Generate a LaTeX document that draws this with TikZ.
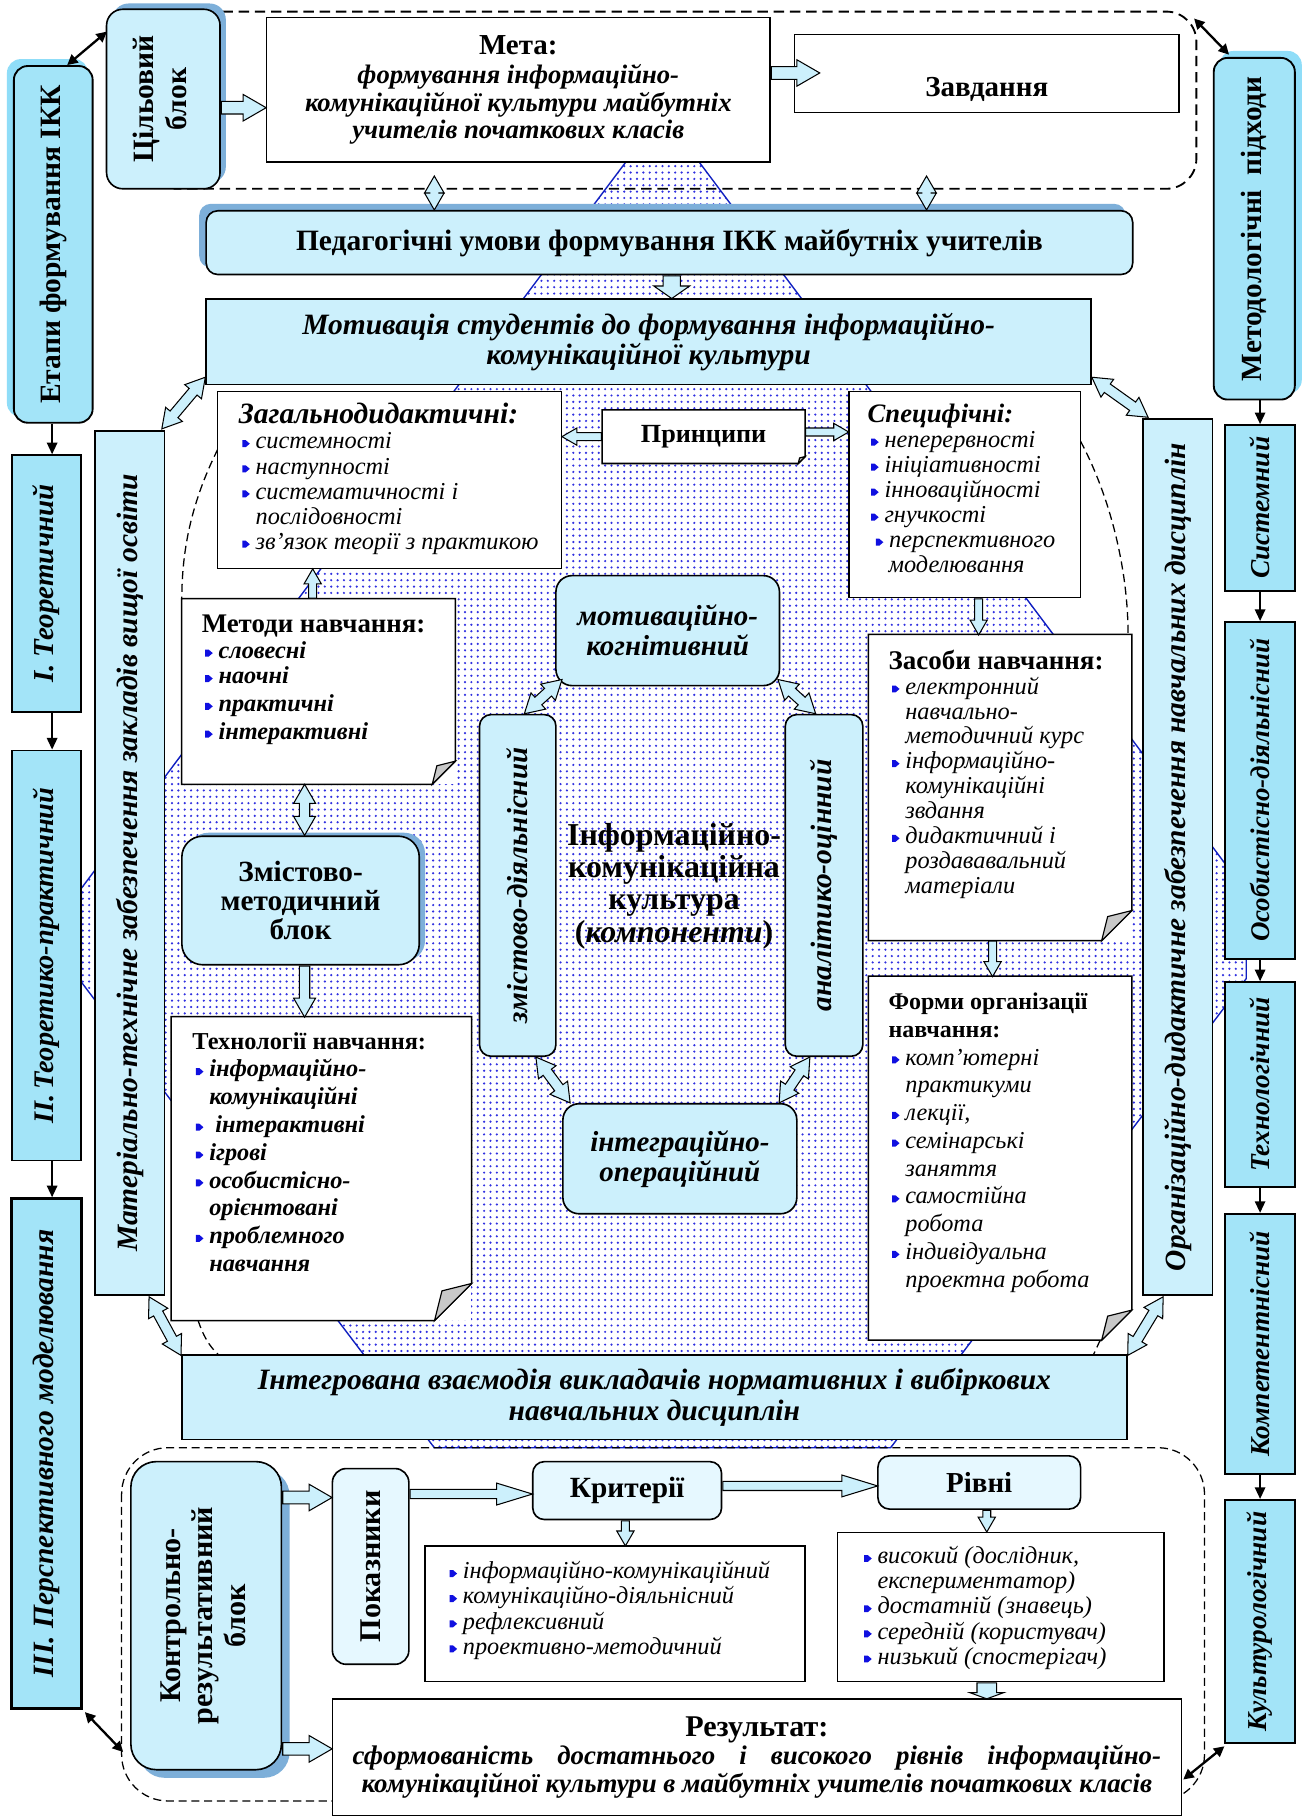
\documentclass[tikz,border=0pt]{standalone}
\usepackage{fontspec}
\setmainfont{Liberation Serif}
\usepackage{graphicx}
\usetikzlibrary{calc,arrows.meta,shapes.arrows,patterns.meta}

\definecolor{blokfill}{HTML}{CCF0FC}
\definecolor{colfill}{HTML}{A3E4F8}
\definecolor{glowfill}{HTML}{8FDDF8}
\definecolor{palefill}{HTML}{E6F8FF}
\definecolor{shadowblue}{HTML}{7DAFD9}
\definecolor{dotblue}{HTML}{3030E0}
\definecolor{octline}{HTML}{1020C0}
\definecolor{bulblue}{HTML}{1010E0}
\definecolor{foldgray}{HTML}{C8C8C8}

\newcommand\fs[2]{\fontsize{#1}{#2}\selectfont}
\newcommand\blt{\hspace*{3pt}\tikz[x=1pt,y=1pt,baseline=-4.5pt]\fill[bulblue] (0,-3) -- (3,-3) -- (6.5,0) -- (3,3) -- (0,3) -- cycle;\hspace{5pt}}
\newcommand\ind{\hspace*{14.5pt}}

% hollow block arrows between two points
\newcommand\harrow[3][]{\path let \p1=#2, \p2=#3,
  \n1={atan2(\y2-\y1,\x2-\x1)}, \n2={veclen(\x2-\x1,\y2-\y1)} in
  node[harr, #1, minimum height=\n2, rotate=\n1, anchor=tail] at #2 {};}
\newcommand\hdarrow[3][]{\path let \p1=#2, \p2=#3,
  \n1={atan2(\y2-\y1,\x2-\x1)}, \n2={veclen(\x2-\x1,\y2-\y1)} in
  node[hdarr, #1, minimum height=\n2, rotate=\n1] at ($#2!0.5!#3$) {};}
% folded corner of a sheet
\newcommand\dogear[2]{%
  \draw[line width=1.3pt] (#1.north west) -- (#1.north east) -- ($(#1.south east)+(0,-#2)$)
    -- ($(#1.south east)+(-#2,0)$) -- (#1.south west) -- cycle;
  \draw[line width=1pt, fill=foldgray] ($(#1.south east)+(0,-#2)$) -- ($(#1.south east)+(-#2,0)$)
    -- ($(#1.south east)+(-0.8*#2,-0.8*#2)$) -- cycle;}

\tikzset{
  whitebox/.style={draw, line width=1.3pt, fill=white, inner sep=0pt, align=center},
  sheet/.style={fill=white, inner sep=0pt},
  bluebox/.style={draw, line width=1.4pt, fill=blokfill, inner sep=0pt, align=center},
  blok/.style={bluebox, rounded corners=12pt},
  colbox/.style={draw, line width=1.6pt, fill=colfill, inner sep=0pt},
  palebox/.style={draw, line width=1.4pt, fill=palefill, rounded corners=10pt, inner sep=0pt, align=center},
  listtxt/.style={anchor=north west, inner sep=0pt, align=left, font=\itshape\fs{21}{21.7}},
  harr/.style={single arrow, draw, line width=0.9pt, fill=blokfill, inner xsep=0pt, inner ysep=5pt,
    single arrow head extend=6pt, single arrow tip angle=60},
  harrs/.style={inner ysep=3pt, single arrow head extend=4pt},
  hdarr/.style={double arrow, draw, line width=0.9pt, fill=blokfill, inner xsep=0pt, inner ysep=4pt,
    double arrow head extend=5pt, double arrow tip angle=60},
  colarr/.style={line width=1.4pt, -{Triangle[length=10pt,width=9pt]}},
  dblarr/.style={line width=2pt, {Triangle[length=9pt,width=9pt]}-{Triangle[length=9pt,width=9pt]}},
  frame/.style={dashed, line width=1.1pt, dash pattern=on 7pt off 4pt},
  octa/.style={draw=octline, line width=1.2pt, pattern={Dots[distance=5.5pt,radius=1.05pt]}, pattern color=dotblue}
}

\begin{document}
\begin{tikzpicture}[x=1pt, y=-1pt]
\useasboundingbox (0,0) rectangle (1129,1568);
\fill[white] (0,0) rectangle (1129,1568);

% background field
\path[octa] (568,103) -- (576,103) -- (1076,770) -- (1076,845) -- (769,1250)
  -- (375,1250) -- (68,845) -- (68,770) -- cycle;

% dashed frames
\draw[frame, line width=1.6pt, dash pattern=on 9pt off 5pt, rounded corners=26pt]
  (150,10) -- (1033,10) -- (1033,163) -- (150,163);
\draw[frame, rounded corners=40pt] (105,1250) rectangle (1040,1555);
\draw[frame] (188,388) .. controls (164,436) and (157,478) .. (157,517);
\draw[frame] (933,381) .. controls (958,428) and (974,490) .. (974,548);
\draw[frame] (171,1140) .. controls (175,1152) and (180,1162) .. (189,1170);
\draw[frame] (950,1157) -- (944,1170);

% shadows
\fill[glowfill, rounded corners=12pt] (6,51) rectangle (76,360);
\fill[glowfill, rounded corners=12pt] (1053,44) rectangle (1124,340);
\fill[shadowblue, rounded corners=14pt] (97,3) rectangle (195,158);
\fill[shadowblue, rounded corners=10pt] (172,176) rectangle (972,231);
\fill[shadowblue, rounded corners=18pt] (162,719) rectangle (367,830);
\fill[shadowblue, rounded corners=22pt] (120,1269) rectangle (250,1535);

% stages
\node[colbox, rounded corners=12pt, minimum width=68pt, minimum height=308pt] (etapy) at (46,211)
  {\rotatebox{90}{\bfseries\fs{25.5}{28}Етапи формування ІКК}};
\node[colbox, minimum width=60pt, minimum height=222pt] (teor) at (40,504)
  {\rotatebox{90}{\bfseries\itshape\fs{25}{26}I. Теоретичний}};
\node[colbox, minimum width=60pt, minimum height=354pt] (tepr) at (40,825)
  {\rotatebox{90}{\bfseries\itshape\fs{24.5}{26}II.\,Теоретико-практичний}};
\node[colbox, line width=2.6pt, minimum width=60pt, minimum height=440pt] (persp) at (40,1255)
  {\rotatebox{90}{\bfseries\itshape\fs{25.5}{26}III. Перспективного моделювання}};

\draw[colarr] (etapy.south -| 45,0) -- (teor.north -| 45,0);
\draw[colarr] (teor.south -| 45,0) -- (tepr.north -| 45,0);
\draw[colarr] (tepr.south -| 45,0) -- (persp.north -| 45,0);

% approaches
\node[colbox, rounded corners=12pt, minimum width=70pt, minimum height=295pt] (metod) at (1083,197.5)
  {\rotatebox{90}{\bfseries\fs{25.3}{28}Методологічні\ \ підходи}};
\node[colbox, minimum width=60pt, minimum height=143pt] (syst) at (1088,438.5)
  {\rotatebox{90}{\bfseries\itshape\fs{23.6}{26}Системний}};
\node[colbox, minimum width=60pt, minimum height=291pt] (osob) at (1088,682.5)
  {\rotatebox{90}{\bfseries\itshape\fs{23.3}{26}Особистісно-діяльнісний}};
\node[colbox, minimum width=60pt, minimum height=177pt] (tekhn) at (1088,936.5)
  {\rotatebox{90}{\bfseries\itshape\fs{23.6}{26}Технологічний}};
\node[colbox, minimum width=60pt, minimum height=225pt] (komp) at (1088,1160.5)
  {\rotatebox{90}{\bfseries\itshape\fs{23.6}{26}Компетентнісний}};
\node[colbox, minimum width=60pt, minimum height=210pt] (kult) at (1088,1400)
  {\rotatebox{90}{\bfseries\itshape\fs{23.6}{26}Культурологічний}};

\draw[colarr] (metod.south -| 1088,0) -- (syst.north -| 1088,0);
\draw[colarr] (syst.south -| 1088,0) -- (osob.north -| 1088,0);
\draw[colarr] (osob.south -| 1088,0) -- (tekhn.north -| 1088,0);
\draw[colarr] (tekhn.south -| 1088,0) -- (komp.north -| 1088,0);
\draw[colarr] (komp.south -| 1088,0) -- (kult.north -| 1088,0);

% target block
\node[blok, rounded corners=14pt, minimum width=98pt, minimum height=155pt] (tsil) at (141,85.5)
  {\rotatebox{90}{\bfseries\fs{25.5}{28}\begin{tabular}{@{}c@{}}Цільовий\\блок\end{tabular}}};
\node[whitebox, minimum width=435pt, minimum height=125pt, font=\bfseries\itshape\fs{23}{23.5}] (meta) at (447.5,77.5)
  {{\upshape\fs{25}{26}Мета:}\\[2pt]формування інформаційно-\\комунікаційної культури майбутніх\\учителів початкових класів};
\node[whitebox, minimum width=332pt, minimum height=67pt, font=\bfseries\fs{25}{26}] (zavd) at (852,63.5)
  {\raisebox{-19.5pt}[0pt][0pt]{Завдання}};

\node[blok, rounded corners=10pt, minimum width=800pt, minimum height=55pt, font=\bfseries\fs{25.5}{26}] (ped) at (578,209.5)
  {Педагогічні умови формування ІКК майбутніх учителів};
\node[bluebox, minimum width=764pt, minimum height=74pt, font=\bfseries\itshape\fs{25.5}{26}] (motiv) at (560,295)
  {Мотивація студентів до формування інформаційно-\\комунікаційної культури};

\node[bluebox, minimum width=60pt, minimum height=746pt] (mat) at (112,745)
  {\rotatebox{90}{\bfseries\itshape\fs{25.5}{26}Матеріально-технічне забезпечення закладів вищої освіти}};
\node[bluebox, minimum width=60pt, minimum height=756pt] (org) at (1017,740)
  {\rotatebox{90}{\bfseries\itshape\fs{25.4}{26}Організаційно-дидактичне забезпечення навчальних дисциплін}};
\node[bluebox, minimum width=816pt, minimum height=73pt, font=\bfseries\itshape\fs{25.5}{26}] (inte) at (565,1206.5)
  {Інтегрована взаємодія викладачів нормативних і вибіркових\\навчальних дисциплін};

% principles
\node[whitebox, minimum width=297pt, minimum height=153pt] (zahal) at (336.5,414.5) {};
\node[listtxt] (zahal-t) at (206,348)
  {{\bfseries\fs{25.5}{26}Загальнодидактичні:}\\\blt системності\\\blt наступності\\\blt систематичності і\\\ind послідовності\\\blt зв’язок теорії з практикою};
\node[sheet, minimum width=175pt, minimum height=46pt] (pryn) at (607.5,377) {\bfseries\fs{22.6}{24}Принципи};
\dogear{pryn}{6}
\node[whitebox, minimum width=200pt, minimum height=178pt] (spets) at (833,427) {};
\node[listtxt, font=\itshape\fs{21}{21.6}] (spets-t) at (749,348.5)
  {{\bfseries\fs{23}{24}Специфічні:}\\\blt неперервності\\\blt ініціативності\\\blt інноваційності\\\blt гнучкості\\\hspace*{4pt}\blt перспективного\\\hspace*{18pt}моделювання};

% content and methods block
\node[sheet, minimum width=236pt, minimum height=160pt] (metody) at (275,597) {};
\dogear{metody}{20}
\node[listtxt, font=\bfseries\itshape\fs{21}{22}] (metody-t) at (174,531)
  {{\upshape\fs{23.2}{24}Методи навчання:}\\\blt словесні\\\blt наочні\\[2pt]\blt практичні\\[2pt]\blt інтерактивні};
\node[blok, rounded corners=18pt, minimum width=205pt, minimum height=111pt, font=\bfseries\fs{25.3}{25}] (zmet) at (259.5,777.5)
  {Змістово-\\методичний\\блок};
\node[sheet, minimum width=259pt, minimum height=262pt] (tekh) at (277.5,1009) {};
\dogear{tekh}{32}
\node[listtxt, font=\bfseries\itshape\fs{21}{24}] (tekh-t) at (166,891)
  {{\upshape\fs{21}{24}Технології навчання:}\\\blt інформаційно-\\\ind комунікаційні\\\blt\ інтерактивні\\\blt ігрові\\\blt особистісно-\\\ind орієнтовані\\\blt проблемного\\\ind навчання};
\node[sheet, minimum width=227pt, minimum height=264pt] (zasoby) at (863.5,680) {};
\dogear{zasoby}{26}
\node[listtxt, font=\itshape\fs{21}{21.5}] (zasoby-t) at (767,561)
  {{\upshape\bfseries\fs{23.3}{24}Засоби навчання:}\\\blt електронний\\\ind навчально-\\\ind методичний курс\\\blt інформаційно-\\\ind комунікаційні\\\ind звдання\\\blt дидактичний і\\\ind роздававальний\\\ind матеріали};
\node[sheet, minimum width=227pt, minimum height=314pt] (formy) at (863.5,1000) {};
\dogear{formy}{26}
\node[listtxt, font=\itshape\fs{21}{24}] (formy-t) at (767,857)
  {{\upshape\bfseries\fs{20.7}{24}Форми організації}\\{\upshape\bfseries\fs{20.7}{24}навчання:}\\\blt комп’ютерні\\\ind практикуми\\\blt лекції,\\\blt семінарські\\\ind заняття\\\blt самостійна\\\ind робота\\\blt індивідуальна\\\ind проектна робота};

% components
\node[blok, rounded corners=14pt, minimum width=193pt, minimum height=95pt, font=\bfseries\itshape\fs{25}{26}] (mk) at (576.5,544.5)
  {мотиваційно-\\когнітивний};
\node[blok, rounded corners=10pt, minimum width=66pt, minimum height=295pt] (zd) at (447,764.5)
  {\rotatebox{90}{\bfseries\itshape\fs{25}{26}змістово-діяльнісний}};
\node[blok, rounded corners=10pt, minimum width=67pt, minimum height=295pt] (ao) at (711.5,764.5)
  {\rotatebox{90}{\bfseries\itshape\fs{25.5}{26}аналітико-оцінний}};
\node[blok, rounded corners=14pt, minimum width=202pt, minimum height=95pt, font=\bfseries\itshape\fs{25}{26}] (io) at (587,1000.5)
  {інтеграційно-\\операційний};
\node[inner sep=0pt, align=center, font=\bfseries\fs{27.5}{28}] (ikk) at (582,765)
  {Інформаційно-\\комунікаційна\\культура\\(\textit{компоненти})};

% control block
\node[blok, rounded corners=22pt, minimum width=130pt, minimum height=266pt] (kontr) at (178,1395)
  {\rotatebox{90}{\bfseries\fs{26}{28}\begin{tabular}{@{}c@{}}Контрольно-\\результативний\\блок\end{tabular}}};
\node[palebox, rounded corners=12pt, minimum width=66pt, minimum height=169pt] (pokaz) at (320,1352.5)
  {\rotatebox{90}{\bfseries\fs{26}{26}Показники}};
\node[palebox, minimum width=163pt, minimum height=50pt, font=\bfseries\fs{25.3}{26}] (kryt) at (541.5,1287) {Критерії};
\node[palebox, minimum width=175pt, minimum height=46pt, font=\bfseries\fs{25}{26}] (rivni) at (845.5,1280) {Рівні};
\node[whitebox, minimum width=328pt, minimum height=117pt] (krlist) at (531,1393.5) {};
\node[listtxt, font=\itshape\fs{21}{21.7}] (krlist-t) at (385,1348)
  {\blt інформаційно-комунікаційний\\\blt комунікаційно-діяльнісний\\\blt рефлексивний\\\blt проективно-методичний};
\node[whitebox, minimum width=282pt, minimum height=129pt] (rvlist) at (864,1387.5) {};
\node[listtxt, font=\itshape\fs{21}{21.7}] (rvlist-t) at (743,1335)
  {\blt високий (дослідник,\\\ind експериментатор)\\\blt достатній (знавець)\\\blt середній (користувач)\\\blt низький (спостерігач)};
\node[whitebox, minimum width=733pt, minimum height=101pt, font=\bfseries\itshape\fs{23.2}{24}] (res) at (653.5,1517.5)
  {{\upshape\fs{26}{26}Результат:}\\\makebox[698pt][s]{сформованість достатнього і високого рівнів інформаційно-}\\комунікаційної культури в майбутніх учителів початкових класів};

% hollow arrows
\harrow{(tsil.east |- 0,93)}{(meta.west |- 0,93)}
\harrow{(meta.east |- 0,63)}{($(zavd.west |- 0,63)+(22,0)$)}
\coordinate (dl) at (375,152);
\coordinate (dr) at (800,152);
\hdarrow[inner ysep=3.5pt, double arrow head extend=4.5pt]{(dl)}{(dl |- ped.north)}
\hdarrow[inner ysep=3.5pt, double arrow head extend=4.5pt]{(dr)}{(dr |- ped.north)}
\harrow[single arrow tip angle=110, inner ysep=7pt, single arrow head extend=8pt]{(ped.south -| 580,0)}{(motiv.north -| 580,0)}
\hdarrow{($(mat.north east)+(-3,-1)$)}{($(motiv.south west)+(0,-7)$)}
\hdarrow{($(motiv.south east)+(0,-7)$)}{($(org.north west)+(5,-1)$)}
\hdarrow{($(mat.south east)+(-14,1)$)}{($(inte.north west)+(0,1)$)}
\hdarrow{($(org.south west)+(18,1)$)}{($(inte.north east)+(0,1)$)}
\harrow[harrs]{(pryn.west)}{(zahal.east |- pryn.west)}
\harrow[harrs]{($(pryn.east)+(0,-4)$)}{($(spets.west |- pryn.east)+(0,-4)$)}
\harrow[harrs]{(spets.south -| 845,0)}{(zasoby.north -| 845,0)}
\harrow[harrs]{(zasoby.south -| 857,0)}{(formy.north -| 857,0)}
\harrow[harrs]{(metody.north -| 270,0)}{(zahal.south -| 270,0)}
\hdarrow{(metody.south -| 263,0)}{(zmet.north -| 263,0)}
\harrow[inner ysep=4pt, single arrow head extend=5pt]{(zmet.south -| 263,0)}{(tekh.north -| 263,0)}
\hdarrow{($(mk.south west)+(6,-6)$)}{($(zd.north east)+(-28,0)$)}
\hdarrow{($(mk.south east)+(-2,-6)$)}{($(ao.north west)+(27,0)$)}
\hdarrow{($(zd.south east)+(-18,0)$)}{($(io.north west)+(7,0)$)}
\hdarrow{($(ao.south west)+(22,0)$)}{($(io.north east)+(-16,0)$)}
\harrow{(kontr.east |- 0,1293)}{(pokaz.west |- 0,1293)}
\harrow{(kontr.east |- 0,1510)}{(res.west |- 0,1510)}
\harrow[inner ysep=3.5pt, single arrow head extend=5.5pt, single arrow tip angle=34]{(pokaz.east |- 0,1290)}{(kryt.west |- 0,1290)}
\harrow[inner ysep=3.5pt, single arrow head extend=5.5pt, single arrow tip angle=34]{(kryt.east |- 0,1283)}{(rivni.west |- 0,1283)}
\harrow[harrs]{(kryt.south -| 540,0)}{(krlist.north -| 540,0)}
\harrow[harrs]{(rivni.south -| 852,0)}{(rvlist.north -| 852,0)}
\harrow[inner ysep=8pt, single arrow head extend=6pt, single arrow tip angle=140]{(rvlist.south -| 852,0)}{(res.north -| 852,0)}

% black links
\coordinate (dtr) at (1031,16);
\draw[dblarr] ($(etapy.north)+(12,0)$) -- ($(tsil.north west)+(1,20)$);
\draw[dblarr] ($(metod.north west)+(14,-2)$) -- (dtr);
\draw[dblarr] ($(persp.south east)+(2,2)$) -- ($(kontr.south west)+(-6,-16)$);
\draw[dblarr] ($(kult.south west)+(0,2)$) -- ($(res.east)+(1,19)$);
\end{tikzpicture}
\end{document}
